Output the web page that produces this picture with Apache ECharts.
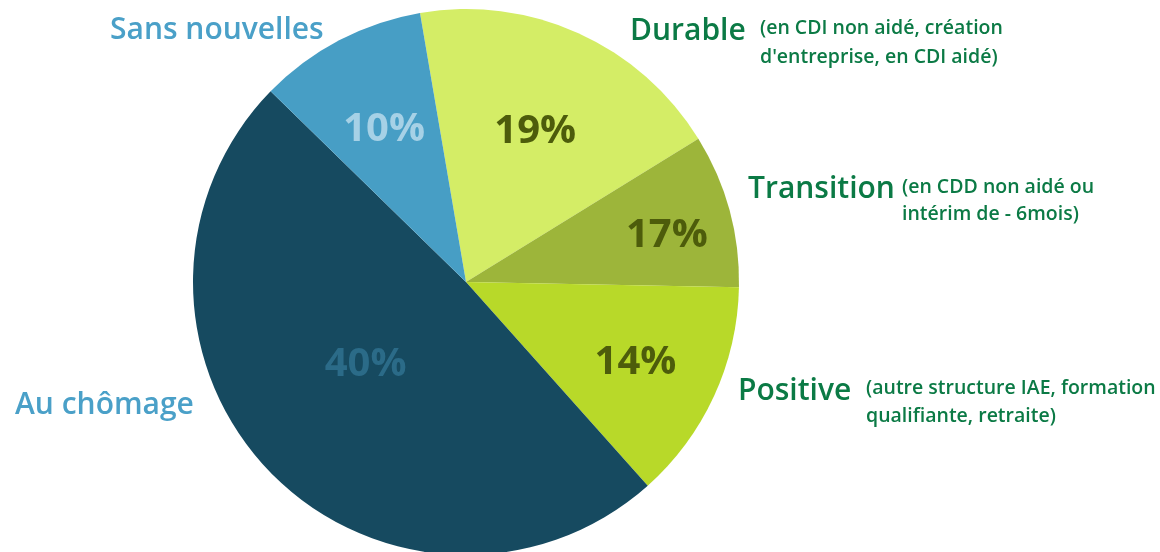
<!DOCTYPE html>
<html>
<head>
<meta charset="utf-8">
<script src="https://cdn.jsdelivr.net/npm/echarts@6/dist/echarts.min.js"></script>
<style>html,body{margin:0;padding:0;background:#fff;}#c{width:1160px;height:552px;}</style>
</head>
<body>
<div id="c"></div>
<script>
// ---- data ----
const categories = ['Durable', 'Transition', 'Positive', 'Au chômage', 'Sans nouvelles'];
const sliceShares = [18.9, 9.1, 13.1, 48.9, 10.0];          // slice sizes as drawn
const percentLabels = ['19%', '17%', '14%', '40%', '10%'];  // printed values
const details = [
  "(en CDI non aidé, création\nd'entreprise, en CDI aidé)",
  "(en CDD non aidé ou\nintérim de - 6mois)",
  "(autre structure IAE, formation\nqualifiante, retraite)",
  "",
  ""
];

// ---- styles ----
const sliceColors = ['#d4ed66', '#9db53a', '#b8d929', '#164a60', '#479ec5'];
const pctColors = ['#4d5c0b', '#4d5c0b', '#4d5c0b', '#2b6b88', '#a6d1e6'];
const labelRadius = [162.5, 173, 189, 116.5, 169];
const labelShiftX = [1, 31, -5, -14, -2]; // horizontal fine tuning (px)
const FONT = '"Open Sans", Lato, sans-serif';
const CENTER = [466, 282];
const R = 273;
const START = 99.7;

function shiftPadding(dx) {
  return [0, dx < 0 ? -2 * dx : 0, 0, dx > 0 ? 2 * dx : 0];
}

const chart = echarts.init(document.getElementById('c'), null, {renderer: 'canvas'});

const pieData = categories.map((c, i) => ({
  name: c, value: sliceShares[i], itemStyle: {color: sliceColors[i]}
}));

const series = [{
  type: 'pie', center: CENTER, radius: [0, R], startAngle: START, clockwise: true,
  silent: true, animation: false, avoidLabelOverlap: false,
  label: {show: false}, labelLine: {show: false},
  itemStyle: {borderWidth: 0},
  data: pieData
}];

// percent labels: one transparent thin ring per slice, label placed inside at the chosen radius
categories.forEach((c, k) => {
  series.push({
    type: 'pie', center: CENTER, radius: [labelRadius[k] - 1, labelRadius[k] + 1],
    startAngle: START, clockwise: true, silent: true, animation: false,
    avoidLabelOverlap: false, labelLine: {show: false},
    itemStyle: {color: 'rgba(0,0,0,0)'},
    data: categories.map((n, i) => ({
      name: n, value: sliceShares[i],
      label: {
        show: i === k, position: 'inside', formatter: percentLabels[i],
        color: pctColors[i], fontFamily: FONT, fontWeight: 'bold', fontSize: 40,
        padding: shiftPadding(labelShiftX[i])
      }
    }))
  });
});

const green = '#0b7a45';
const blue = '#4aa0c8';
const TF = '600 30px ' + FONT;
const SF = '600 19.5px ' + FONT;
const graphics = [
  {type: 'text', x: 630, y: 31, style: {text: categories[0], font: TF, fill: green, textVerticalAlign: 'middle'}},
  {type: 'text', x: 760, y: 14, style: {text: details[0], font: SF, fill: green, lineHeight: 29, textVerticalAlign: 'top'}},
  {type: 'text', x: 748, y: 189, style: {text: categories[1], font: TF, fill: green, textVerticalAlign: 'middle'}},
  {type: 'text', x: 902, y: 174, style: {text: details[1], font: SF, fill: green, lineHeight: 27, textVerticalAlign: 'top'}},
  {type: 'text', x: 738, y: 391, style: {text: categories[2], font: TF, fill: green, textVerticalAlign: 'middle'}},
  {type: 'text', x: 866, y: 374, style: {text: details[2], font: SF, fill: green, lineHeight: 28, textVerticalAlign: 'top'}},
  {type: 'text', x: 15, y: 405, style: {text: categories[3], font: TF, fill: blue, textVerticalAlign: 'middle'}},
  {type: 'text', x: 110, y: 30, style: {text: categories[4], font: TF, fill: blue, textVerticalAlign: 'middle'}}
];

chart.setOption({
  animation: false,
  backgroundColor: '#ffffff',
  series: series,
  graphic: graphics
});
</script>
</body>
</html>
